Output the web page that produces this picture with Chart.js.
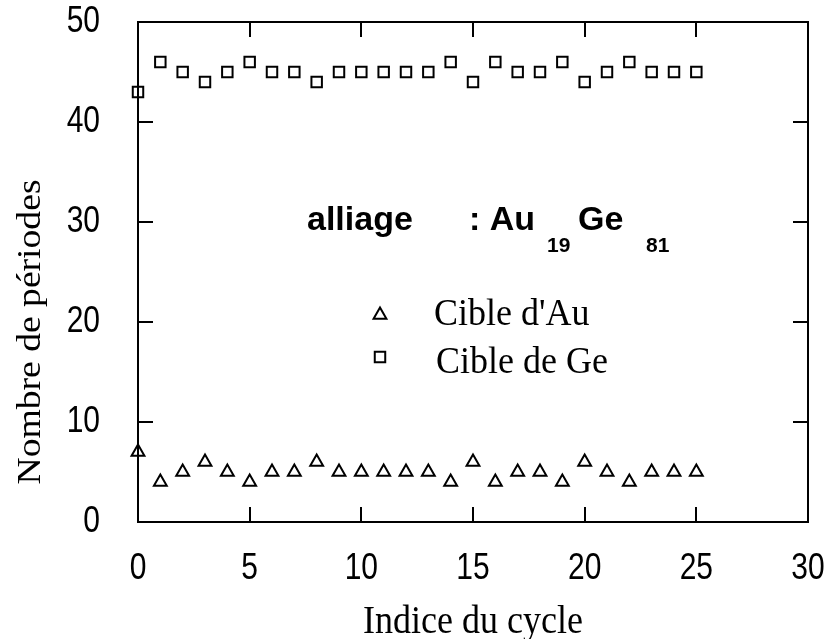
<!DOCTYPE html>
<html>
<head>
<meta charset="utf-8">
<script src="https://cdn.jsdelivr.net/npm/chart.js@4.4.0/dist/chart.umd.min.js"></script>
<style>
  html, body { margin: 0; padding: 0; background: #fff; }
  #wrap { width: 827px; height: 639px; }
</style>
</head>
<body>
<div id="wrap"><canvas id="cycleChart" width="827" height="639"></canvas></div>
<script>
// cycle index and number of periods for each target
const cycles = [0, 1, 2, 3, 4, 5, 6, 7, 8, 9, 10, 11, 12, 13, 14, 15, 16, 17, 18, 19, 20, 21, 22, 23, 24, 25];
const auPeriods = [7, 4, 5, 6, 5, 4, 5, 5, 6, 5, 5, 5, 5, 5, 4, 6, 4, 5, 5, 4, 6, 5, 4, 5, 5, 5];
const gePeriods = [43, 46, 45, 44, 45, 46, 45, 45, 44, 45, 45, 45, 45, 45, 46, 44, 46, 45, 45, 46, 44, 45, 46, 45, 45, 45];

const xTicks = [0, 5, 10, 15, 20, 25, 30];
const yTicks = [0, 10, 20, 30, 40, 50];

const seriesLabels = ["Cible d'Au", 'Cible de Ge'];
const xTitle = 'Indice du cycle';
const yTitle = 'Nombre de périodes';

const SANS = '"Liberation Sans", Arial, sans-serif';
const SERIF = '"Liberation Serif", "Times New Roman", serif';

const MARKER_R = 7.4;
const MARKER_W = 2;

function toPoints(xs, ys) {
  return xs.map((x, i) => ({ x: x, y: ys[i] }));
}

// text drawn slightly taller than wide (sy), optionally rotated
function drawText(ctx, str, x, y, font, align, baseline, sy, rot) {
  ctx.save();
  ctx.translate(x, y);
  ctx.scale(1, sy);
  if (rot) ctx.rotate(rot);
  ctx.font = font;
  ctx.textAlign = align;
  ctx.textBaseline = baseline;
  ctx.fillText(str, 0, 0);
  ctx.restore();
}

// box, inward ticks on all four sides, tick labels, axis titles, legend, alloy label
const framePlugin = {
  id: 'frame',
  afterDatasetsDraw(chart) {
    const ctx = chart.ctx;
    const a = chart.chartArea;
    const xs = chart.scales.x;
    const ys = chart.scales.y;
    const tick = 15;

    ctx.save();
    ctx.strokeStyle = '#000';
    ctx.lineWidth = 2;
    ctx.strokeRect(a.left, a.top, a.right - a.left, a.bottom - a.top);

    ctx.beginPath();
    xTicks.forEach(v => {
      const px = Math.round(xs.getPixelForValue(v));
      ctx.moveTo(px, a.bottom); ctx.lineTo(px, a.bottom - tick);
      ctx.moveTo(px, a.top); ctx.lineTo(px, a.top + tick);
    });
    yTicks.forEach(v => {
      const py = Math.round(ys.getPixelForValue(v));
      ctx.moveTo(a.left, py); ctx.lineTo(a.left + tick, py);
      ctx.moveTo(a.right, py); ctx.lineTo(a.right - tick, py);
    });
    ctx.stroke();

    ctx.fillStyle = '#000';
    const tickFont = '30px ' + SANS;
    xTicks.forEach(v => {
      drawText(ctx, String(v), xs.getPixelForValue(v), a.bottom + 47, tickFont, 'center', 'middle', 1.2);
    });
    yTicks.forEach(v => {
      drawText(ctx, String(v), a.left - 38, ys.getPixelForValue(v), tickFont, 'right', 'middle', 1.2);
    });

    // axis titles
    drawText(ctx, xTitle, (a.left + a.right) / 2, 633, '36px ' + SERIF, 'center', 'alphabetic', 1.12);
    drawText(ctx, yTitle, 31, 332, '33px ' + SERIF, 'center', 'middle', 1.14, -Math.PI / 2);

    // legend
    const markerOpts = (style) => ({
      pointStyle: style, radius: MARKER_R, borderWidth: MARKER_W, rotation: 0
    });
    ctx.fillStyle = 'rgba(0,0,0,0)';
    ctx.strokeStyle = '#000';
    ctx.lineWidth = MARKER_W;
    Chart.helpers.drawPoint(ctx, markerOpts('triangle'), a.left + 242, a.top + 293);
    Chart.helpers.drawPoint(ctx, markerOpts('rect'), a.left + 242, a.top + 335);

    ctx.fillStyle = '#000';
    const legFont = '36px ' + SERIF;
    drawText(ctx, seriesLabels[0], a.left + 296, a.top + 303, legFont, 'left', 'alphabetic', 1.06);
    drawText(ctx, seriesLabels[1], a.left + 298, a.top + 351, legFont, 'left', 'alphabetic', 1.06);

    // alloy composition label
    const big = 'bold 34px ' + SANS;
    const sub = 'bold 21px ' + SANS;
    drawText(ctx, 'alliage', a.left + 169, a.top + 208, big, 'left', 'alphabetic', 1);
    drawText(ctx, ': Au', a.left + 331, a.top + 208, big, 'left', 'alphabetic', 1);
    drawText(ctx, 'Ge', a.left + 440, a.top + 208, big, 'left', 'alphabetic', 1);
    drawText(ctx, '19', a.left + 409, a.top + 230, sub, 'left', 'alphabetic', 1);
    drawText(ctx, '81', a.left + 508, a.top + 230, sub, 'left', 'alphabetic', 1);
    ctx.restore();
  }
};

const ctx = document.getElementById('cycleChart').getContext('2d');

const fixScale = (w, h) => s => {
  if (w !== null) s.width = w;
  if (h !== null) s.height = h;
  s.paddingTop = 0;
  s.paddingBottom = 0;
  s.paddingLeft = 0;
  s.paddingRight = 0;
};

new Chart(ctx, {
  type: 'scatter',
  data: {
    datasets: [
      {
        label: seriesLabels[0],
        data: toPoints(cycles, auPeriods),
        pointStyle: 'triangle',
        pointRadius: MARKER_R,
        pointHoverRadius: MARKER_R,
        pointBorderWidth: MARKER_W,
        borderColor: '#000',
        backgroundColor: 'rgba(0,0,0,0)',
        clip: false
      },
      {
        label: seriesLabels[1],
        data: toPoints(cycles, gePeriods),
        pointStyle: 'rect',
        pointRadius: MARKER_R,
        pointHoverRadius: MARKER_R,
        pointBorderWidth: MARKER_W,
        borderColor: '#000',
        backgroundColor: 'rgba(0,0,0,0)',
        clip: false
      }
    ]
  },
  options: {
    responsive: false,
    animation: false,
    layout: { padding: { top: 22, right: 19, left: 0, bottom: 0 } },
    plugins: {
      legend: { display: false },
      tooltip: { enabled: false }
    },
    scales: {
      x: {
        type: 'linear',
        min: 0,
        max: 30,
        afterBuildTicks: s => { s.ticks = xTicks.map(v => ({ value: v })); },
        afterFit: fixScale(null, 117),
        grid: { display: false, drawTicks: false },
        border: { display: false },
        ticks: { display: false }
      },
      y: {
        type: 'linear',
        min: 0,
        max: 50,
        afterBuildTicks: s => { s.ticks = yTicks.map(v => ({ value: v })); },
        afterFit: fixScale(138, null),
        grid: { display: false, drawTicks: false },
        border: { display: false },
        ticks: { display: false }
      }
    }
  },
  plugins: [framePlugin]
});
</script>
</body>
</html>
